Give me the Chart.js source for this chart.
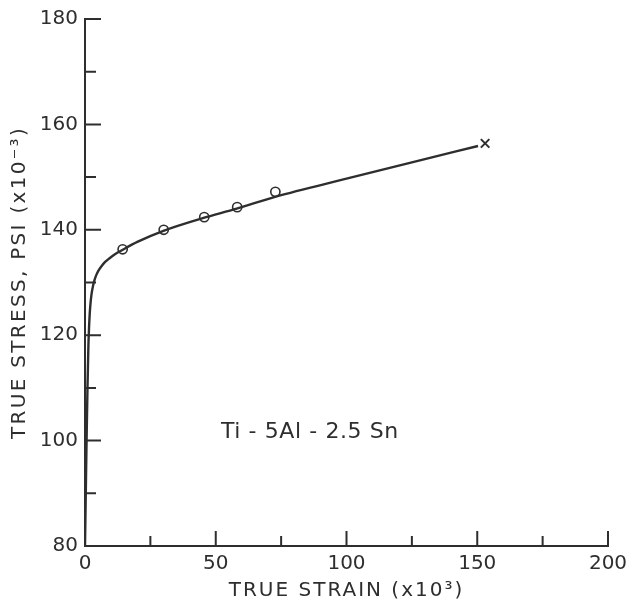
<!DOCTYPE html>
<html>
<head>
<meta charset="utf-8">
<script src="https://cdn.jsdelivr.net/npm/chart.js@4"></script>
<style>
  html, body { margin: 0; padding: 0; background: #fff; }
  #wrap { width: 630px; height: 609px; }
</style>
</head>
<body>
<div id="wrap"><canvas id="c" width="630" height="609"></canvas></div>
<script>
// ---- data ----
const curveStrain = [0, 0.3, 0.6, 0.95, 1.3, 1.55, 1.8, 2.1, 2.5, 3.0, 3.6, 4.3, 5.2, 6.3, 7.7, 9.4, 11.6, 14.4, 20, 30, 45, 58, 73, 100, 125, 150.3];
const curveStress = [80, 90, 100, 110, 118, 121.5, 124, 126, 127.8, 129.2, 130.4, 131.4, 132.3, 133.1, 133.9, 134.6, 135.4, 136.2, 137.7, 139.8, 142.2, 144, 146.3, 149.7, 152.8, 155.9];
const testStrain = [14.4, 30.1, 45.6, 58.2, 72.8];
const testStress = [136.3, 140.0, 142.4, 144.3, 147.2];
const fractureStrain = [153];
const fractureStress = [156.4];
const xTickLabels = [0, 50, 100, 150, 200];
const yTickLabels = [80, 100, 120, 140, 160, 180];
const xTitle = 'TRUE STRAIN (x10³)';
const yTitle = 'TRUE STRESS, PSI (x10⁻³)';
const alloyLabel = 'Ti - 5Al - 2.5 Sn';
const alloyLabelAt = { x: 86, y: 101.6 };

const INK = '#2e2e2e';
const FONT = 'DejaVu Sans';

const pts = (xs, ys) => xs.map((x, i) => ({ x, y: ys[i] }));

const titleSpacing = { x: '2px', y: '2.3px' };

const inwardTicks = {
  id: 'inwardTicks',
  beforeDraw(chart) {
    Object.values(chart.scales).forEach(s => {
      if (s._lsWrapped) return;
      const orig = s.drawTitle;
      s.drawTitle = function () {
        const ctx = this.ctx;
        const prev = ctx.letterSpacing;
        ctx.letterSpacing = titleSpacing[this.id] || '0px';
        orig.apply(this, arguments);
        ctx.letterSpacing = prev;
      };
      s._lsWrapped = true;
    });
  },
  afterDatasetsDraw(chart) {
    const { ctx, scales: { x, y } } = chart;
    ctx.save();
    ctx.strokeStyle = INK;
    ctx.lineWidth = 2;
    ctx.beginPath();
    x.ticks.forEach(t => {
      if (t.value === 0) return;
      const px = x.getPixelForValue(t.value);
      const len = xTickLabels.includes(t.value) ? 15 : 10;
      ctx.moveTo(px, x.top);
      ctx.lineTo(px, x.top - len);
    });
    y.ticks.forEach(t => {
      if (t.value === 80) return;
      const py = y.getPixelForValue(t.value);
      const len = yTickLabels.includes(t.value) ? 16 : 11;
      ctx.moveTo(y.right, py);
      ctx.lineTo(y.right + len, py);
    });
    ctx.stroke();
    // alloy label
    ctx.fillStyle = INK;
    ctx.font = `22px "${FONT}"`;
    ctx.letterSpacing = '0.6px';
    ctx.textAlign = 'center';
    ctx.textBaseline = 'middle';
    ctx.fillText(alloyLabel, x.getPixelForValue(alloyLabelAt.x), y.getPixelForValue(alloyLabelAt.y));
    ctx.restore();
  }
};

new Chart(document.getElementById('c'), {
  type: 'scatter',
  data: {
    datasets: [
      {
        label: 'curve',
        data: pts(curveStrain, curveStress),
        showLine: true,
        cubicInterpolationMode: 'monotone',
        borderColor: INK,
        borderWidth: 2.4,
        pointRadius: 0,
        fill: false
      },
      {
        label: 'tests',
        data: pts(testStrain, testStress),
        showLine: false,
        pointStyle: 'circle',
        pointRadius: 4.6,
        pointBorderWidth: 1.6,
        pointBorderColor: INK,
        pointBackgroundColor: '#ffffff'
      },
      {
        label: 'fracture',
        data: pts(fractureStrain, fractureStress),
        showLine: false,
        pointStyle: 'crossRot',
        pointRadius: 6,
        pointBorderWidth: 2,
        pointBorderColor: INK
      }
    ]
  },
  options: {
    responsive: false,
    animation: false,
    events: [],
    layout: { padding: { top: 19, right: 22, left: 0, bottom: 0 } },
    plugins: { legend: { display: false }, tooltip: { enabled: false } },
    scales: {
      x: {
        type: 'linear',
        min: 0, max: 200,
        afterFit(s) { s.height = 63; s.paddingRight = 0; s.paddingLeft = 0; },
        border: { display: true, color: INK, width: 2 },
        grid: { display: true, drawOnChartArea: false, drawTicks: false },
        ticks: {
          stepSize: 25,
          padding: 6,
          color: INK,
          font: { family: FONT, size: 20 },
          maxRotation: 0,
          autoSkip: false,
          callback: v => xTickLabels.includes(v) ? String(v) : ''
        },
        title: {
          display: true,
          text: xTitle,
          color: INK,
          font: { family: FONT, size: 20 },
          padding: { top: 0, bottom: 6 }
        }
      },
      y: {
        type: 'linear',
        min: 80, max: 180,
        afterFit(s) { s.width = 85; s.paddingTop = 0; s.paddingBottom = 0; },
        border: { display: true, color: INK, width: 2 },
        grid: { display: true, drawOnChartArea: false, drawTicks: false },
        ticks: {
          stepSize: 10,
          padding: 7,
          color: INK,
          font: { family: FONT, size: 20 },
          autoSkip: false,
          callback: v => yTickLabels.includes(v) ? String(v) : ''
        },
        title: {
          display: true,
          text: yTitle,
          color: INK,
          font: { family: FONT, size: 20 },
          padding: { top: 8, bottom: 0 }
        }
      }
    }
  },
  plugins: [inwardTicks]
});
</script>
</body>
</html>
